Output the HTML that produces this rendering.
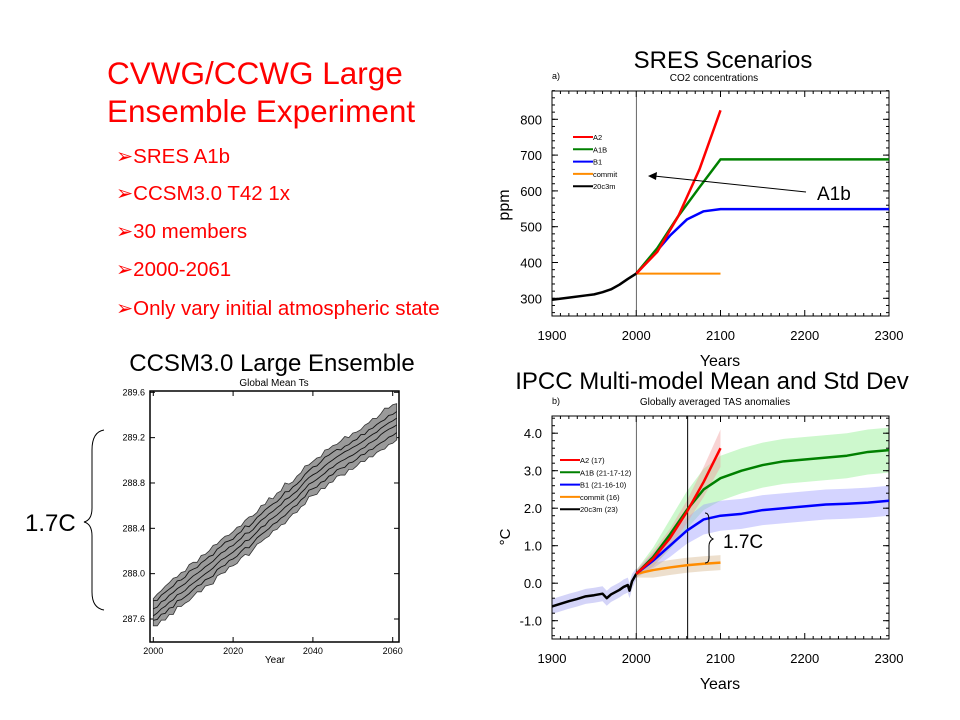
<!DOCTYPE html>
<html><head><meta charset="utf-8"><style>
body{margin:0;background:#fff;}
svg{display:block;font-family:"Liberation Sans",sans-serif;}
</style></head><body>
<svg id="s" width="960" height="720" viewBox="0 0 960 720">
<g fill="#ff0000" font-size="31.5">
<text x="107" y="84">CVWG/CCWG Large</text>
<text x="107" y="122">Ensemble Experiment</text>
</g>
<g fill="#ff0000" font-size="20.5">
<text x="116" y="163">➢SRES A1b</text>
<text x="116" y="200">➢CCSM3.0 T42 1x</text>
<text x="116" y="238">➢30 members</text>
<text x="116" y="276">➢2000-2061</text>
<text x="116" y="315">➢Only vary initial atmospheric state</text>
</g>
<text x="723" y="68" text-anchor="middle" font-size="24">SRES Scenarios</text>
<text x="272" y="371" text-anchor="middle" font-size="24">CCSM3.0 Large Ensemble</text>
<text x="712" y="389" text-anchor="middle" font-size="24">IPCC Multi-model Mean and Std Dev</text>
<text x="25" y="531" font-size="24">1.7C</text>
<path d="M104,430 Q92,432 92,450 L92,508 Q92,520 84,522 Q92,524 92,536 L92,592 Q92,608 104,610" fill="none" stroke="#000" stroke-width="1"/>
<g id="ca"></g>
<g id="cb"></g>
<g id="cc"></g>
</svg>
<script>
// ---- Chart a: CO2 ----
const co2HistYears=[1900,1920,1940,1950,1960,1970,1980,1990,2000];
const co2Hist=[296,302,308,311,317,325,338,354,369];
const co2A2Years=[2000,2025,2050,2075,2100];
const co2A2=[369,430,530,660,825];
const co2A1BYears=[2000,2025,2050,2075,2100,2300];
const co2A1B=[369,440,530,610,688,688];
const co2B1Years=[2000,2020,2040,2060,2080,2100,2300];
const co2B1=[369,420,475,520,543,549,549];
const co2CommitYears=[2000,2100];
const co2Commit=[369,369];
const co2Ticks=[300,400,500,600,700,800];
const yearTicks=[1900,2000,2100,2200,2300];
// ---- Chart b: TAS ----
const tasHistYears=[1900,1910,1920,1930,1940,1950,1960,1965,1970,1980,1985,1990,1992,1995,2000];
const tasHist=[-0.62,-0.55,-0.48,-0.42,-0.35,-0.32,-0.28,-0.40,-0.30,-0.18,-0.10,-0.05,-0.2,0.05,0.25];
const tasHistSd=[0.2,0.2,0.2,0.2,0.2,0.2,0.2,0.2,0.2,0.2,0.2,0.2,0.2,0.2,0.15];
const tasA2Years=[2000,2020,2040,2060,2080,2100];
const tasA2=[0.25,0.65,1.2,1.9,2.7,3.6];
const tasA2Sd=[0.1,0.2,0.25,0.3,0.4,0.5];
const tasA1BYears=[2000,2020,2040,2060,2080,2100,2125,2150,2175,2200,2225,2250,2275,2300];
const tasA1B=[0.25,0.7,1.3,1.95,2.5,2.8,3.0,3.15,3.25,3.3,3.35,3.4,3.5,3.55];
const tasA1BSd=[0.1,0.25,0.4,0.5,0.55,0.6,0.6,0.6,0.6,0.6,0.6,0.6,0.6,0.6];
const tasB1Years=[2000,2020,2040,2060,2080,2100,2125,2150,2175,2200,2225,2250,2275,2300];
const tasB1=[0.25,0.6,1.0,1.4,1.7,1.8,1.85,1.95,2.0,2.05,2.1,2.12,2.15,2.2];
const tasB1Sd=[0.1,0.2,0.3,0.35,0.4,0.4,0.4,0.4,0.4,0.4,0.4,0.4,0.4,0.4];
const tasCommitYears=[2000,2020,2040,2060,2080,2100];
const tasCommit=[0.25,0.35,0.42,0.48,0.52,0.55];
const tasCommitSd=[0.1,0.2,0.2,0.2,0.2,0.2];
const tasTicks=[-1,0,1,2,3,4];
// ---- Chart c: ensemble ----
const ensMean=[287.66,287.68,287.72,287.74,287.78,287.80,287.84,287.86,287.88,287.92,
287.95,287.97,288.00,288.03,288.05,288.08,288.12,288.15,288.17,288.20,
288.22,288.25,288.28,288.32,288.33,288.36,288.40,288.44,288.46,288.50,
288.52,288.55,288.58,288.62,288.64,288.67,288.70,288.74,288.78,288.82,
288.84,288.86,288.89,288.92,288.95,288.97,289.00,289.02,289.04,289.06,
289.08,289.10,289.13,289.15,289.18,289.20,289.22,289.25,289.28,289.30,289.32,289.34];
const ensSpread=[0.12,0.14,0.13,0.15,0.14,0.16,0.13,0.15,0.14,0.16,0.15,0.13,0.16,0.14,0.15,0.17,0.14,0.15,0.16,0.14,
0.15,0.16,0.14,0.15,0.17,0.15,0.14,0.16,0.15,0.17,0.14,0.16,0.15,0.18,0.15,0.14,0.16,0.15,0.17,0.14,
0.15,0.16,0.14,0.17,0.15,0.16,0.14,0.15,0.17,0.14,0.16,0.15,0.14,0.16,0.15,0.17,0.15,0.16,0.18,0.16,0.17,0.16];
const ensTicksY=[287.6,288.0,288.4,288.8,289.2,289.6];
const ensTicksX=[2000,2020,2040,2060];

const NS="http://www.w3.org/2000/svg";
function mk(p,t,a){const e=document.createElementNS(NS,t);for(const k in a)e.setAttribute(k,a[k]);p.appendChild(e);return e;}

const L=552,R=889;
const xA=y=>L+(y-1900)*(R-L)/400;
const yA=v=>298.3-(v-300)*0.358;
const yB=v=>583.2-v*37.5;

function frame(g,top,bot,yf,yt,ymin,ymax,ystep,fmt){
  const r=mk(g,'rect',{x:L,y:top,width:R-L,height:bot-top,fill:'none',stroke:'#000','stroke-width':1});
  
  
  for(let yr=1900;yr<=2300;yr+=10){const x=xA(yr),len=yr%100==0?6:3;
    mk(g,'line',{x1:x,x2:x,y1:bot,y2:bot-len,stroke:'#000'});mk(g,'line',{x1:x,x2:x,y1:top,y2:top+len,stroke:'#000'});}
  for(let v=ymin;v<=ymax+1e-9;v+=ystep){const y=yf(v);
    mk(g,'line',{x1:L,x2:L+3,y1:y,y2:y,stroke:'#000'});mk(g,'line',{x1:R,x2:R-3,y1:y,y2:y,stroke:'#000'});}
  yt.forEach(v=>{const y=yf(v);
    mk(g,'line',{x1:L,x2:L+6,y1:y,y2:y,stroke:'#000'});mk(g,'line',{x1:R,x2:R-6,y1:y,y2:y,stroke:'#000'});
    const t=mk(g,'text',{x:L-10,y:y+5,'text-anchor':'end','font-size':13});t.textContent=fmt(v);
    
    });
  yearTicks.forEach(yr=>{const t=mk(g,'text',{x:xA(yr),y:bot+24,'text-anchor':'middle','font-size':13});t.textContent=yr;
    
    });
  const t=mk(g,'text',{x:720,y:bot+50,'text-anchor':'middle','font-size':16});t.textContent='Years';
  
  
}
function line(g,xs,vs,yf,color,w,name){
  const p=mk(g,'polyline',{points:xs.map((x,i)=>xA(x)+','+yf(vs[i])).join(' '),fill:'none',stroke:color,'stroke-width':w,'stroke-linejoin':'round'});
  
  
}
function band(g,xs,vs,sd,yf,color,name){
  const up=xs.map((x,i)=>xA(x)+','+yf(vs[i]+sd[i])),dn=xs.map((x,i)=>xA(x)+','+yf(vs[i]-sd[i])).reverse();
  const p=mk(g,'polygon',{points:up.concat(dn).join(' '),fill:color,opacity:0.45});
  
  
}
function legend(g,x,y,items){
  items.forEach((it,i)=>{const yy=y+i*12.3;
    const l=mk(g,'line',{x1:x,x2:x+20,y1:yy,y2:yy,stroke:it[1],'stroke-width':2});
    
    
    const t=mk(g,'text',{x:x+20,y:yy+3,'font-size':7.5});t.textContent=it[0];
    
    });
}

// Chart a
const ga=document.getElementById('ca');
frame(ga,91,316,yA,co2Ticks,260,880,20,v=>v);
mk(ga,'line',{x1:xA(2000),x2:xA(2000),y1:91,y2:316,stroke:'#000','stroke-width':0.6});
let t=mk(ga,'text',{x:552,y:79,'font-size':9});t.textContent='a)';

t=mk(ga,'text',{x:714,y:81,'text-anchor':'middle','font-size':10});t.textContent='CO2 concentrations';

t=mk(ga,'text',{x:0,y:0,'font-size':16,transform:'translate(509,205) rotate(-90)','text-anchor':'middle'});t.textContent='ppm';

line(ga,co2CommitYears,co2Commit,yA,'#ff8c00',2,'series-commit');
line(ga,co2B1Years,co2B1,yA,'#0000ff',2.5,'series-b1');
line(ga,co2A1BYears,co2A1B,yA,'#008000',2.5,'series-a1b');
line(ga,co2A2Years,co2A2,yA,'#ff0000',2.5,'series-a2');
line(ga,co2HistYears,co2Hist,yA,'#000',2.5,'series-20c3m');
legend(ga,573,137,[['A2','#ff0000'],['A1B','#008000'],['B1','#0000ff'],['commit','#ff8c00'],['20c3m','#000']]);
mk(ga,'line',{x1:806,x2:654,y1:192,y2:176,stroke:'#000'});
mk(ga,'polygon',{points:'648,176 657,172 656,180',fill:'#000'});
t=mk(ga,'text',{x:817,y:200,'font-size':19});t.textContent='A1b';


// Chart b
const gb=document.getElementById('cb');
band(gb,tasHistYears,tasHist,tasHistSd,yB,'#a0a0f0','band-20c3m');
band(gb,tasA1BYears,tasA1B,tasA1BSd,yB,'#90f090','band-a1b');
band(gb,tasB1Years,tasB1,tasB1Sd,yB,'#a0a0ff','band-b1');
band(gb,tasA2Years,tasA2,tasA2Sd,yB,'#f0a0a0','band-a2');
band(gb,tasCommitYears,tasCommit,tasCommitSd,yB,'#d8b890','band-commit');
frame(gb,416,639,yB,tasTicks,-1.4,4.4,0.2,v=>v.toFixed(1));
mk(gb,'line',{x1:xA(2000),x2:xA(2000),y1:416,y2:639,stroke:'#000','stroke-width':0.6});
mk(gb,'line',{x1:xA(2061),x2:xA(2061),y1:416,y2:639,stroke:'#000','stroke-width':1});
t=mk(gb,'text',{x:552,y:404,'font-size':9});t.textContent='b)';

t=mk(gb,'text',{x:715,y:405,'text-anchor':'middle','font-size':10});t.textContent='Globally averaged TAS anomalies';

t=mk(gb,'text',{x:0,y:0,'font-size':15,transform:'translate(510,537) rotate(-90)','text-anchor':'middle'});t.textContent='°C';

line(gb,tasHistYears,tasHist,yB,'#000',2.5,'series-20c3m');
line(gb,tasCommitYears,tasCommit,yB,'#ff8c00',2.5,'series-commit');
line(gb,tasB1Years,tasB1,yB,'#0000ff',2.5,'series-b1');
line(gb,tasA1BYears,tasA1B,yB,'#008000',2.5,'series-a1b');
line(gb,tasA2Years,tasA2,yB,'#ff0000',2.5,'series-a2');
legend(gb,560,460,[['A2 (17)','#ff0000'],['A1B (21-17-12)','#008000'],['B1 (21-16-10)','#0000ff'],['commit (16)','#ff8c00'],['20c3m (23)','#000']]);
mk(gb,'path',{d:'M705,513 Q709,513 709,520 L709,532 Q709,537 713,539 Q709,541 709,546 L709,558 Q709,563 705,563',fill:'none',stroke:'#000'});
t=mk(gb,'text',{x:723,y:548,'font-size':19});t.textContent='1.7C';


// Chart c
const gc=document.getElementById('cc');
const cL=150,cR=399,cT=391,cB=642;
const xC=y=>153.3+(y-2000)*(392.7-153.3)/60;
const yC=v=>619-(v-287.6)*(619-392.3)/2.0;
let fr=mk(gc,'rect',{x:cL,y:cT,width:cR-cL,height:cB-cT,fill:'none',stroke:'#000','stroke-width':1.5});

t=mk(gc,'text',{x:274,y:386,'text-anchor':'middle','font-size':10});t.textContent='Global Mean Ts';

ensTicksY.forEach(v=>{const y=yC(v);
  mk(gc,'line',{x1:cL,x2:cL+5,y1:y,y2:y,stroke:'#000'});mk(gc,'line',{x1:cR,x2:cR-5,y1:y,y2:y,stroke:'#000'});
  const tt=mk(gc,'text',{x:cL-5,y:y+3,'text-anchor':'end','font-size':9});tt.textContent=v.toFixed(1);
  });
ensTicksX.forEach(v=>{const x=xC(v);
  mk(gc,'line',{x1:x,x2:x,y1:cB,y2:cB-5,stroke:'#000'});mk(gc,'line',{x1:x,x2:x,y1:cT,y2:cT+5,stroke:'#000'});
  const tt=mk(gc,'text',{x:x,y:cB+12,'text-anchor':'middle','font-size':9});tt.textContent=v;
  });
t=mk(gc,'text',{x:275,y:663,'text-anchor':'middle','font-size':10});t.textContent='Year';

const yrs=ensMean.map((_,i)=>2000+i);
const up=yrs.map((y,i)=>xC(y)+','+yC(ensMean[i]+ensSpread[i]));
const dn=yrs.map((y,i)=>xC(y)+','+yC(ensMean[i]-ensSpread[i])).reverse();
let bp=mk(gc,'polygon',{points:up.concat(dn).join(' '),fill:'#9a9a9a',stroke:'#333','stroke-width':0.8});

[-0.6,-0.2,0.2,0.6].forEach((f,k)=>{
  const pl=mk(gc,'polyline',{points:yrs.map((y,i)=>xC(y)+','+yC(ensMean[i]+f*ensSpread[(i+k*5)%ensSpread.length])).join(' '),fill:'none',stroke:'#111','stroke-width':0.9});
  
  
});
</script>
</body></html>
